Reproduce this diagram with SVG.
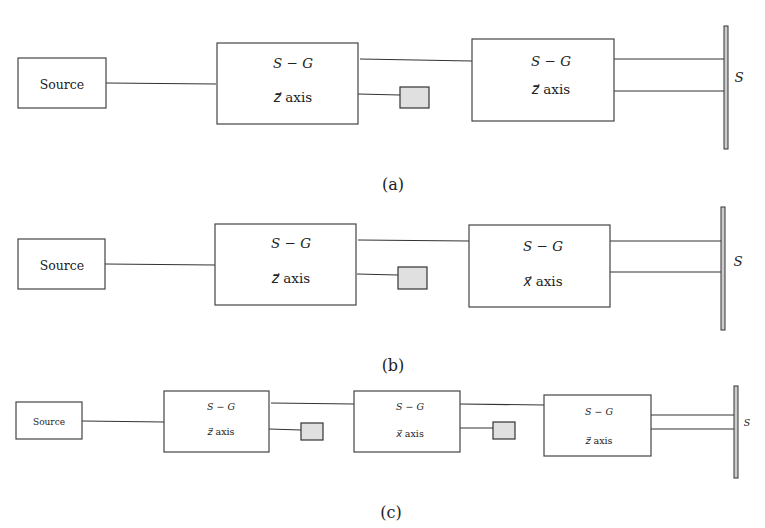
<svg xmlns="http://www.w3.org/2000/svg" width="765" height="528" viewBox="0 0 765 528">
<style>
.box{fill:#fff;stroke:#444;stroke-width:1.2}
.small{fill:#e0e0e0;stroke:#333;stroke-width:1.2}
.screen{fill:#ccc;stroke:#333;stroke-width:1}
.ln{stroke:#333;stroke-width:1.1;fill:none}
.f{font-family:"DejaVu Serif","DejaVu Sans",serif;fill:#222}
.src{font-size:12.5px}
.t13{font-size:13.5px}
.src9{font-size:9px}
.t9{font-size:9.5px}
.cap{font-size:16px}
.it{font-style:italic}
</style>
<rect width="765" height="528" fill="#fff"/>
<g id="connectors">
<path class="ln" d="M106 83 L216 84"/>
<path class="ln" d="M360 59 L472 61"/>
<path class="ln" d="M358 94 L400 95"/>
<path class="ln" d="M614 59 L724 59"/>
<path class="ln" d="M614 91 L724 91"/>
<path class="ln" d="M105 264 L215 265"/>
<path class="ln" d="M358 240 L469 241"/>
<path class="ln" d="M357 274 L398 275"/>
<path class="ln" d="M610 241 L721 241"/>
<path class="ln" d="M610 272 L721 272"/>
<path class="ln" d="M82 421 L164 422"/>
<path class="ln" d="M271 403 L354 404"/>
<path class="ln" d="M269 429 L301 430"/>
<path class="ln" d="M460 404 L544 405"/>
<path class="ln" d="M460 428 L493 428"/>
<path class="ln" d="M651 415 L734 415"/>
<path class="ln" d="M651 429 L734 429"/>
</g>
<g class="f" text-anchor="middle">
<g id="a-source"><rect class="box" x="18" y="58" width="88" height="50"/><text class="src" x="62" y="89">Source</text></g>
<g id="a-sg1"><rect class="box" x="217" y="43" width="141" height="81"/><text class="t13 it" x="293" y="68">S − G</text><text class="t13" x="293" y="102"><tspan class="it">z⃗</tspan> axis</text></g>
<g id="a-block1"><rect class="small" x="400" y="87" width="29" height="21"/></g>
<g id="a-sg2"><rect class="box" x="472" y="39" width="142" height="82"/><text class="t13 it" x="551" y="66">S − G</text><text class="t13" x="551" y="94"><tspan class="it">z⃗</tspan> axis</text></g>
<g id="a-screen"><rect class="screen" x="724" y="26" width="4" height="123"/><text class="t13 it" x="739" y="82">S</text></g>
<text class="cap" x="393" y="190">(a)</text>
<g id="b-source"><rect class="box" x="18" y="239" width="87" height="50"/><text class="src" x="62" y="270">Source</text></g>
<g id="b-sg1"><rect class="box" x="215" y="224" width="141" height="81"/><text class="t13 it" x="291" y="248">S − G</text><text class="t13" x="291" y="283"><tspan class="it">z⃗</tspan> axis</text></g>
<g id="b-block1"><rect class="small" x="398" y="267" width="29" height="22"/></g>
<g id="b-sg2"><rect class="box" x="469" y="225" width="141" height="82"/><text class="t13 it" x="543" y="251">S − G</text><text class="t13" x="543" y="286"><tspan class="it">x⃗</tspan> axis</text></g>
<g id="b-screen"><rect class="screen" x="721" y="207" width="4" height="123"/><text class="t13 it" x="738" y="266">S</text></g>
<text class="cap" x="393" y="371">(b)</text>
<g id="c-source"><rect class="box" x="16" y="402" width="66" height="37"/><text class="src9" x="49" y="425">Source</text></g>
<g id="c-sg1"><rect class="box" x="164" y="391" width="105" height="61"/><text class="t9 it" x="221" y="410">S − G</text><text class="t9" x="221" y="435"><tspan class="it">z⃗</tspan> axis</text></g>
<g id="c-block1"><rect class="small" x="301" y="423" width="22" height="17"/></g>
<g id="c-sg2"><rect class="box" x="354" y="391" width="106" height="61"/><text class="t9 it" x="410" y="410">S − G</text><text class="t9" x="410" y="437"><tspan class="it">x⃗</tspan> axis</text></g>
<g id="c-block2"><rect class="small" x="493" y="422" width="22" height="17"/></g>
<g id="c-sg3"><rect class="box" x="544" y="395" width="107" height="61"/><text class="t9 it" x="599" y="415">S − G</text><text class="t9" x="599" y="444"><tspan class="it">z⃗</tspan> axis</text></g>
<g id="c-screen"><rect class="screen" x="734" y="386" width="4" height="92"/><text class="t9 it" x="747" y="426">S</text></g>
<text class="cap" x="391" y="518">(c)</text>
</g>
</svg>
